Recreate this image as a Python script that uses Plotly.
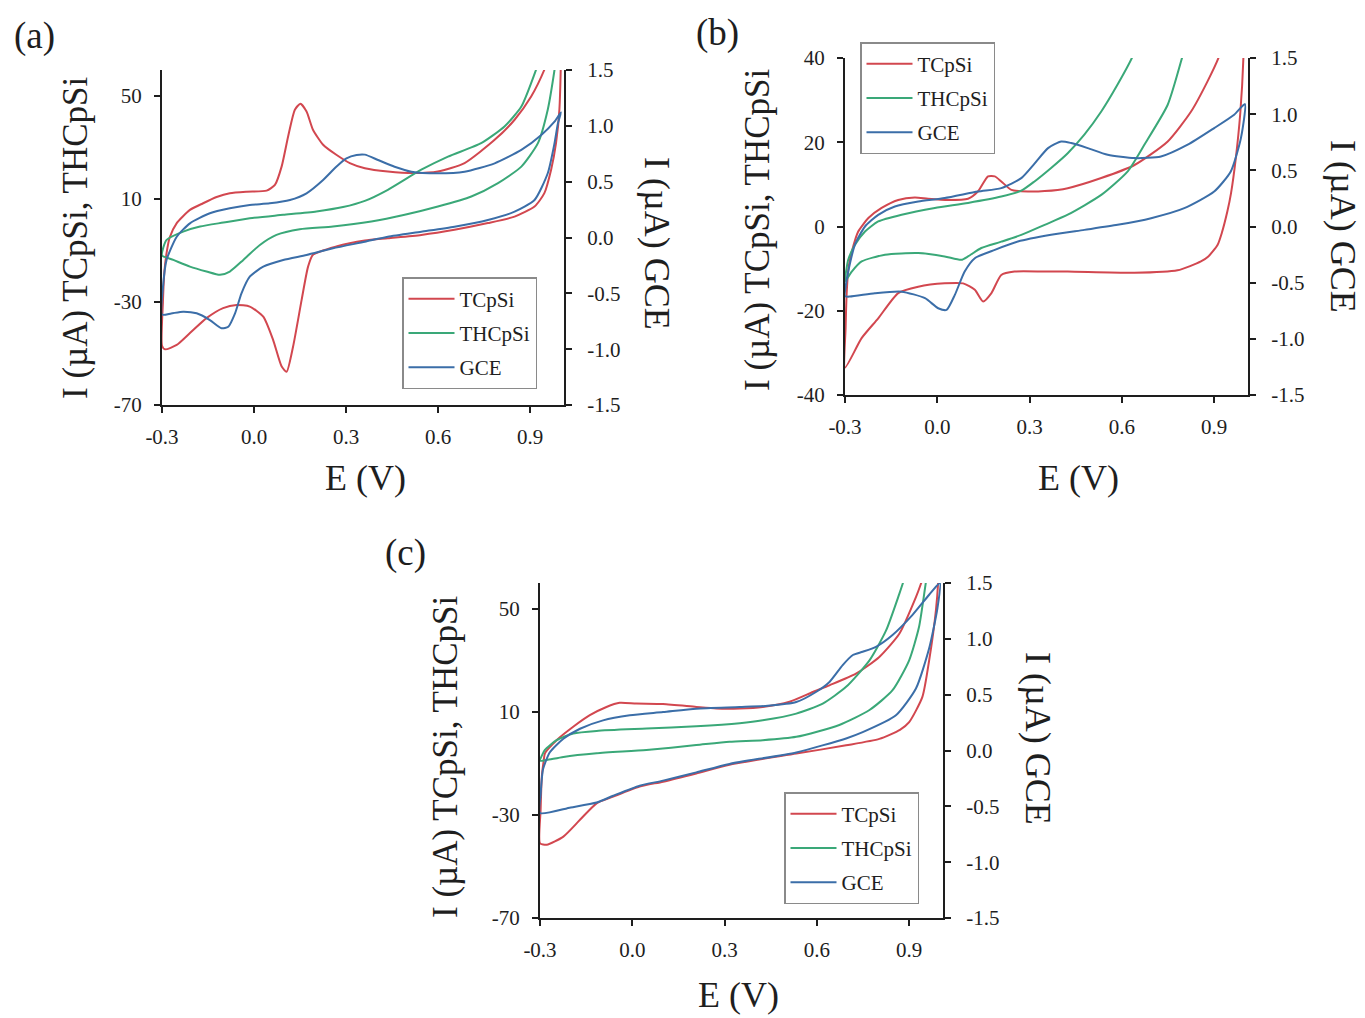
import plotly.graph_objects as go

FONT = "Liberation Serif"
INK = "#1e1e1e"
RED = "#d2474f"
GREEN = "#3aa878"
BLUE = "#3b6ea8"

W, H = 1365, 1018

# ---------------- panel (a) ----------------
a_tcpsi_E = [-0.300, -0.297, -0.292, -0.285, -0.275, -0.252, -0.209, -0.166, -0.122, -0.079, -0.024, 0.041,
             0.068, 0.090, 0.111, 0.133, 0.151, 0.171, 0.192, 0.225, 0.268, 0.312, 0.361, 0.436, 0.523,
             0.599, 0.686, 0.784, 0.849, 0.903, 0.946, 0.980, 1.000,
             0.995, 0.984, 0.968, 0.946, 0.914, 0.849, 0.762, 0.653, 0.545, 0.436, 0.361, 0.268, 0.192,
             0.176, 0.155, 0.127, 0.106, 0.090, 0.062, 0.030, -0.014, -0.057, -0.101, -0.155, -0.209,
             -0.252, -0.290, -0.300]
a_tcpsi_I = [-47.0, -30.0, -18.0, -11.0, -5.0, 0.6, 5.7, 8.3, 10.7, 12.2, 12.8, 13.2,
             15.4, 22.6, 34.2, 44.6, 46.9, 43.9, 36.8, 31.0, 27.1, 23.9, 21.9, 20.6, 20.0,
             20.6, 23.9, 32.9, 40.7, 49.7, 60.1, 72.0, 82.0,
             44.6, 31.6, 21.3, 12.2, 7.0, 3.1, 0.6, -2.0, -4.0, -5.3, -6.2, -8.5, -11.7,
             -16.3, -29.2, -47.4, -57.1, -55.1, -44.7, -35.7, -31.8, -31.2, -32.4, -36.3, -42.1,
             -46.7, -48.4, -47.0]

a_thcpsi_E = [-0.300, -0.296, -0.285, -0.231, -0.176, -0.100, -0.014, 0.095, 0.203, 0.290, 0.361, 0.436,
              0.545, 0.632, 0.740, 0.816, 0.871, 0.919, 0.960, 1.000,
              0.990, 0.979, 0.957, 0.925, 0.871, 0.795, 0.708, 0.599, 0.491, 0.382, 0.257, 0.149,
              0.073, 0.019, -0.035, -0.079, -0.111, -0.155, -0.209, -0.263, -0.300]
a_thcpsi_I = [-12.0, -9.0, -5.9, -2.7, -0.75, 0.8, 2.5, 3.8, 5.1, 6.8, 9.2, 13.5,
              21.3, 26.4, 31.6, 38.1, 45.8, 60.1, 75.0, 90.0,
              70.0, 60.0, 44.6, 31.6, 22.5, 16.1, 10.9, 7.0, 3.8, 1.2, -0.75, -1.8,
              -4.0, -7.9, -13.7, -18.2, -19.5, -18.2, -16.3, -13.7, -12.0]

a_gce_E = [-0.300, -0.297, -0.285, -0.252, -0.209, -0.144, -0.079, -0.014, 0.051, 0.117, 0.171, 0.225,
           0.268, 0.301, 0.334, 0.361, 0.404, 0.458, 0.513, 0.599, 0.686, 0.784, 0.871, 0.936, 0.979, 1.000,
           0.990, 0.979, 0.957, 0.914, 0.849, 0.762, 0.653, 0.545, 0.436, 0.361, 0.257, 0.171, 0.095,
           0.030, -0.014, -0.041, -0.062, -0.084, -0.106, -0.144, -0.187, -0.231, -0.270, -0.300]
a_gce_I = [-0.69, -0.45, -0.20, 0.007, 0.127, 0.217, 0.261, 0.291, 0.306, 0.336, 0.396, 0.515,
           0.634, 0.709, 0.739, 0.742, 0.694, 0.634, 0.589, 0.575, 0.589, 0.664, 0.784, 0.918, 1.037, 1.12,
           1.02, 0.843, 0.575, 0.336, 0.231, 0.157, 0.097, 0.052, 0.007, -0.038, -0.097, -0.157, -0.201,
           -0.261, -0.351, -0.50, -0.679, -0.799, -0.813, -0.739, -0.679, -0.664, -0.68, -0.69]

# ---------------- panel (b) ----------------
b_tcpsi_E = [-0.300, -0.298, -0.294, -0.288, -0.278, -0.257, -0.224, -0.181, -0.127, -0.073, -0.030, 0.035,
             0.100, 0.132, 0.165, 0.187, 0.208, 0.241, 0.295, 0.349, 0.424, 0.533, 0.641, 0.749, 0.825,
             0.878, 0.916, 0.960, 1.000,
             0.995, 0.985, 0.970, 0.955, 0.943, 0.925, 0.911, 0.880, 0.857, 0.781, 0.641, 0.424, 0.349,
             0.251, 0.208, 0.176, 0.149, 0.122, 0.084, 0.024, -0.062, -0.127, -0.192, -0.246, -0.300]
b_tcpsi_I = [-33.5, -24.0, -15.0, -9.5, -6.0, -1.2, 2.0, 4.4, 6.3, 6.9, 6.6, 6.3,
             6.6, 8.3, 11.9, 11.9, 10.7, 8.7, 8.3, 8.4, 9.1, 11.5, 14.6, 20.2, 27.3,
             34.4, 40.4, 52.0, 65.0,
             40.0, 27.0, 16.0, 8.0, 3.6, -1.5, -4.4, -7.2, -8.3, -10.4, -11.0, -10.7, -10.7,
             -10.7, -11.5, -15.8, -17.8, -15.0, -13.5, -13.5, -14.3, -15.8, -21.8, -26.5, -33.5]

b_thcpsi_E = [-0.300, -0.295, -0.290, -0.268, -0.235, -0.192, -0.116, -0.008, 0.100, 0.208, 0.273, 0.316,
              0.370, 0.424, 0.478, 0.533, 0.586, 0.635, 0.700, 1.000,
              0.850, 0.797, 0.749, 0.673, 0.619, 0.533, 0.424, 0.349, 0.273, 0.208, 0.143, 0.100,
              0.078, 0.024, -0.062, -0.170, -0.246, -0.278, -0.300]
b_thcpsi_I = [-13.0, -10.0, -8.0, -4.4, -1.2, 1.2, 2.8, 4.4, 5.6, 7.1, 8.5, 10.7,
              13.9, 17.4, 21.8, 27.3, 33.7, 40.4, 55.0, 110.0,
              55.0, 40.4, 28.9, 19.4, 13.1, 7.5, 2.8, 0.4, -2.0, -3.6, -5.1, -7.1,
              -7.9, -7.1, -6.3, -6.7, -8.3, -10.7, -13.0]

b_gce_E = [-0.300, -0.296, -0.288, -0.268, -0.235, -0.192, -0.138, -0.062, 0.024, 0.132, 0.208, 0.273,
           0.316, 0.360, 0.403, 0.435, 0.489, 0.554, 0.641, 0.727, 0.814, 0.900, 0.965, 1.000,
           0.987, 0.954, 0.900, 0.803, 0.695, 0.586, 0.478, 0.370, 0.262, 0.187, 0.122, 0.089,
           0.057, 0.030, 0.003, -0.040, -0.116, -0.203, -0.284, -0.300]
b_gce_I = [-0.62, -0.50, -0.38, -0.163, 0.0, 0.104, 0.178, 0.222, 0.253, 0.311, 0.342, 0.431,
           0.56, 0.698, 0.757, 0.743, 0.698, 0.638, 0.609, 0.623, 0.728, 0.876, 0.995, 1.09,
           0.787, 0.49, 0.311, 0.163, 0.074, 0.015, -0.03, -0.074, -0.134, -0.208, -0.282, -0.401,
           -0.609, -0.743, -0.728, -0.638, -0.58, -0.594, -0.624, -0.62]

# ---------------- panel (c) ----------------
c_tcpsi_E = [-0.300, -0.298, -0.294, -0.288, -0.284, -0.246, -0.192, -0.138, -0.084, -0.041, 0.013, 0.100,
             0.208, 0.273, 0.349, 0.424, 0.511, 0.587, 0.641, 0.727, 0.803, 0.868, 0.922, 0.938, 0.980, 1.000,
             0.995, 0.987, 0.965, 0.943, 0.900, 0.870, 0.803, 0.695, 0.533, 0.316, 0.208, 0.100, 0.024,
             -0.062, -0.116, -0.170, -0.224, -0.278, -0.300]
c_tcpsi_I = [-41.0, -28.0, -15.0, -9.0, -6.1, -1.0, 4.2, 8.7, 11.9, 13.5, 13.2, 13.0,
             11.9, 11.3, 11.3, 11.9, 13.9, 17.7, 20.3, 24.8, 31.3, 40.3, 54.5, 59.6, 75.0, 85.0,
             62.0, 49.4, 30.0, 15.8, 6.0, 3.0, -0.5, -3.0, -6.2, -10.5, -13.9, -17.1, -19.0,
             -22.9, -25.5, -31.9, -38.4, -41.6, -41.0]

c_thcpsi_E = [-0.300, -0.292, -0.284, -0.246, -0.192, -0.116, 0.046, 0.208, 0.349, 0.424, 0.533, 0.619,
              0.695, 0.771, 0.825, 0.868, 0.879, 0.920, 1.000,
              0.970, 0.954, 0.932, 0.900, 0.846, 0.771, 0.673, 0.533, 0.424, 0.316, 0.208, 0.046,
              -0.116, -0.224, -0.278, -0.300]
c_thcpsi_I = [-9.0, -6.5, -4.8, -1.0, 1.6, 2.6, 3.5, 4.4, 5.6, 6.7, 9.3, 13.2,
              19.7, 30.0, 41.6, 55.8, 59.7, 75.0, 100.0,
              72.0, 60.0, 42.9, 30.0, 18.4, 10.7, 4.9, 0.3, -1.0, -1.6, -2.9, -4.8,
              -6.1, -7.5, -8.7, -9.0]

c_gce_E = [-0.300, -0.298, -0.294, -0.290, -0.268, -0.224, -0.170, -0.095, -0.008, 0.100, 0.208, 0.349,
           0.440, 0.533, 0.597, 0.641, 0.684, 0.717, 0.749, 0.792, 0.846, 0.911, 0.965, 1.000,
           0.992, 0.965, 0.922, 0.857, 0.749, 0.695, 0.533, 0.316, 0.208, 0.100, 0.024, -0.062,
           -0.116, -0.200, -0.300]
c_gce_I = [-0.56, -0.40, -0.25, -0.165, -0.016, 0.105, 0.195, 0.27, 0.315, 0.344, 0.375, 0.389,
           0.40, 0.434, 0.524, 0.614, 0.765, 0.855, 0.884, 0.929, 1.035, 1.215, 1.395, 1.50,
           1.275, 0.915, 0.555, 0.315, 0.164, 0.108, -0.017, -0.12, -0.196, -0.27, -0.315, -0.405,
           -0.466, -0.51, -0.56]

E_TICKS = [-0.3, 0.0, 0.3, 0.6, 0.9]
E_TICKTEXT = ["-0.3", "0.0", "0.3", "0.6", "0.9"]
GCE_TICKS = [-1.5, -1.0, -0.5, 0.0, 0.5, 1.0, 1.5]
GCE_TICKTEXT = ["-1.5", "-1.0", "-0.5", "0.0", "0.5", "1.0", "1.5"]
AC_TICKS = [-70, -30, 10, 50]
B_TICKS = [-40, -20, 0, 20, 40]

# plot-area boxes in pixels: left, right, top, bottom
BOX_A = (162, 564, 70, 405)
BOX_B = (845, 1248, 58, 395)
BOX_C = (540, 943, 583, 918)


def px(x):
    return x / W


def py(y):
    return 1 - y / H


fig = go.Figure()

panels = [
    ("x", "y", "y2", "legend", a_tcpsi_E, a_tcpsi_I, a_thcpsi_E, a_thcpsi_I, a_gce_E, a_gce_I),
    ("x2", "y3", "y4", "legend2", b_tcpsi_E, b_tcpsi_I, b_thcpsi_E, b_thcpsi_I, b_gce_E, b_gce_I),
    ("x3", "y5", "y6", "legend3", c_tcpsi_E, c_tcpsi_I, c_thcpsi_E, c_thcpsi_I, c_gce_E, c_gce_I),
]

for xa, yl, yr, leg, e1, i1, e2, i2, e3, i3 in panels:
    for name, ex, iy, col, ya, grp in [("TCpSi", e1, i1, RED, yl, "g1"),
                                       ("THCpSi", e2, i2, GREEN, yl, "g2"),
                                       ("GCE", e3, i3, BLUE, yr, "g3")]:
        fig.add_trace(go.Scatter(
            x=ex, y=iy, mode="lines", name=name, xaxis=xa, yaxis=ya,
            line=dict(color=col, width=2, shape="spline", smoothing=0.6),
            legend=leg, legendgroup=leg + grp,
        ))

axis_common = dict(showline=True, linecolor=INK, linewidth=2, ticks="outside", ticklen=6,
                   tickwidth=2, tickcolor=INK, showgrid=False, zeroline=False, automargin=False,
                   tickfont=dict(family=FONT, size=21, color=INK))


def xaxis(box, anchor):
    return dict(axis_common, domain=[px(box[0]), px(box[1])], range=[-0.3, 1.01], anchor=anchor,
                tickvals=E_TICKS, ticktext=E_TICKTEXT, ticklabelstandoff=6)


def yleft(box, anchor, rng, ticks):
    return dict(axis_common, domain=[py(box[3]), py(box[2])], range=rng, anchor=anchor,
                tickvals=ticks, ticktext=[str(t) for t in ticks], ticklabelstandoff=8)


def yright(anchor, over):
    return dict(axis_common, range=[-1.5, 1.5], anchor=anchor, overlaying=over, side="right",
                tickvals=GCE_TICKS, ticktext=GCE_TICKTEXT, ticklabelstandoff=11)


def legend_at(x, y):
    return dict(x=px(x), y=py(y), xanchor="left", yanchor="top", bgcolor="white",
                bordercolor="#8a8a8a", borderwidth=1.5, tracegroupgap=4, itemwidth=46,
                font=dict(family=FONT, size=21, color=INK))


fig.update_layout(
    width=W, height=H, margin=dict(l=0, r=0, t=0, b=0, autoexpand=False),
    paper_bgcolor="white", plot_bgcolor="white",
    xaxis=xaxis(BOX_A, "y"), yaxis=yleft(BOX_A, "x", [-70, 60], AC_TICKS), yaxis2=yright("x", "y"),
    xaxis2=xaxis(BOX_B, "y3"), yaxis3=yleft(BOX_B, "x2", [-40, 40], B_TICKS), yaxis4=yright("x2", "y3"),
    xaxis3=xaxis(BOX_C, "y5"), yaxis5=yleft(BOX_C, "x3", [-70, 60], AC_TICKS), yaxis6=yright("x3", "y5"),
    legend=legend_at(402, 277), legend2=legend_at(860, 42), legend3=legend_at(784, 792),
    showlegend=True,
)

notes = [
    ("(a)", 34, 36, 0, 37), ("(b)", 717, 33, 0, 37), ("(c)", 405, 553, 0, 37),
    ("E (V)", 365, 478, 0, 36), ("E (V)", 1078, 478, 0, 36), ("E (V)", 738, 995, 0, 36),
    ("I (µA) TCpSi, THCpSi", 75, 238, -90, 35), ("I (µA) TCpSi, THCpSi", 757, 230, -90, 35),
    ("I (µA) TCpSi, THCpSi", 445, 757, -90, 35),
    ("I (µA) GCE", 657, 243, 90, 36), ("I (µA) GCE", 1343, 226, 90, 36), ("I (µA) GCE", 1038, 738, 90, 36),
]
for text, x, y, ang, size in notes:
    fig.add_annotation(text=text, x=px(x), y=py(y), xref="paper", yref="paper", showarrow=False,
                       textangle=ang, font=dict(family=FONT, size=size, color=INK),
                       xanchor="center", yanchor="middle")

fig.write_html("out.html")
